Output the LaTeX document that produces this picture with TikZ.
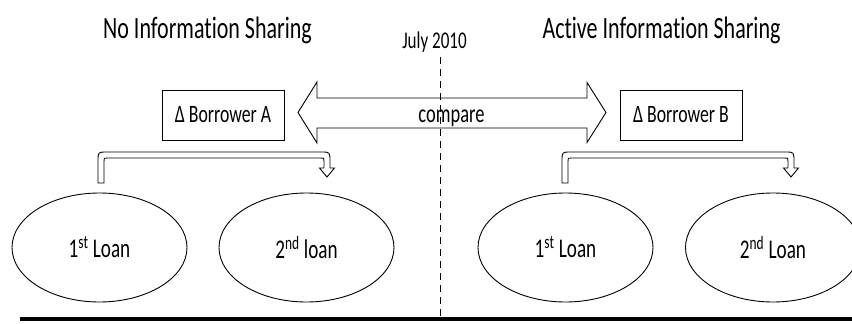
\documentclass[tikz,border=0pt]{standalone}
\usepackage{fontspec}
\usepackage{graphicx}
\setmainfont[FakeStretch=0.71, Ligatures={NoCommon}]{Carlito}
\usetikzlibrary{shapes.geometric}
\tikzset{
  title/.style={anchor=base, font=\fontsize{31}{36}\selectfont, inner sep=0pt},
  datetext/.style={anchor=base, font=\fontsize{24}{28}\selectfont, inner sep=0pt},
  deltabox/.style={draw, line width=0.9pt, minimum width=122pt, minimum height=50pt, inner sep=0pt, font=\fontsize{25}{30}\selectfont},
  loan/.style={draw, ellipse, line width=0.9pt, minimum width=175pt, minimum height=109pt, inner sep=0pt, font=\fontsize{27}{32}\selectfont},
  outline/.style={draw, line width=0.9pt, line join=miter},
}
\begin{document}
\begin{tikzpicture}[x=1pt, y=-1pt]
\useasboundingbox (0,0) rectangle (852,324);
% titles
\node[title] (tl) at (207.5,38) {No Information Sharing};
\node[title] (tr) at (661.5,38) {Active Information Sharing};
\node[datetext] (jul) at (434.5,48) {July 2010};
% timeline divider
\coordinate (dtop) at (440,57);
\coordinate (dbot) at (440,316);
\draw[line width=0.8pt, dash pattern=on 7pt off 5pt] (dtop) -- (dbot);
% boxes
\node[deltabox] (ba) at (223,115) {Δ Borrower A};
\node[deltabox] (bb) at (681,115) {Δ Borrower B};
% compare double arrow
\node[font=\fontsize{26}{30}\selectfont, inner sep=0pt, anchor=base] (cmp) at (451.5,122) {compare};
\draw[outline] (298,112.5) -- (317,82) -- (317,98) -- (587,98) -- (587,82.5) -- (606,112.5)
  -- (587,142.5) -- (587,128) -- (317,128) -- (317,143) -- cycle;
% bent arrows
\foreach \dx in {0,464} {
  \begin{scope}[xshift=\dx pt]
  \draw[outline] (98,183) -- (98,161) .. controls (98,152) .. (107,152) -- (321,152)
    .. controls (330,152) .. (330,161) -- (330,168) -- (334.5,168) -- (327,177) -- (319.5,168)
    -- (324,168) -- (324,161) .. controls (324,158) .. (321,158) -- (107,158)
    .. controls (104,158) .. (104,161) -- (104,183) -- cycle;
  \end{scope}
}
% loans
\node[loan] (l1) at (99.5,247.5) {1\textsuperscript{st} Loan};
\node[loan] (l2) at (306.5,247.5) {2\textsuperscript{nd} loan};
\node[loan] (l3) at (565.5,247.5) {1\textsuperscript{st} Loan};
\node[loan] (l4) at (773,247.5) {2\textsuperscript{nd} Loan};
% baseline axis
\coordinate (ax1) at (20,319);
\coordinate (ax2) at (852,319);
\draw[line width=3.5pt] (ax1) -- (ax2);
\end{tikzpicture}
\end{document}
